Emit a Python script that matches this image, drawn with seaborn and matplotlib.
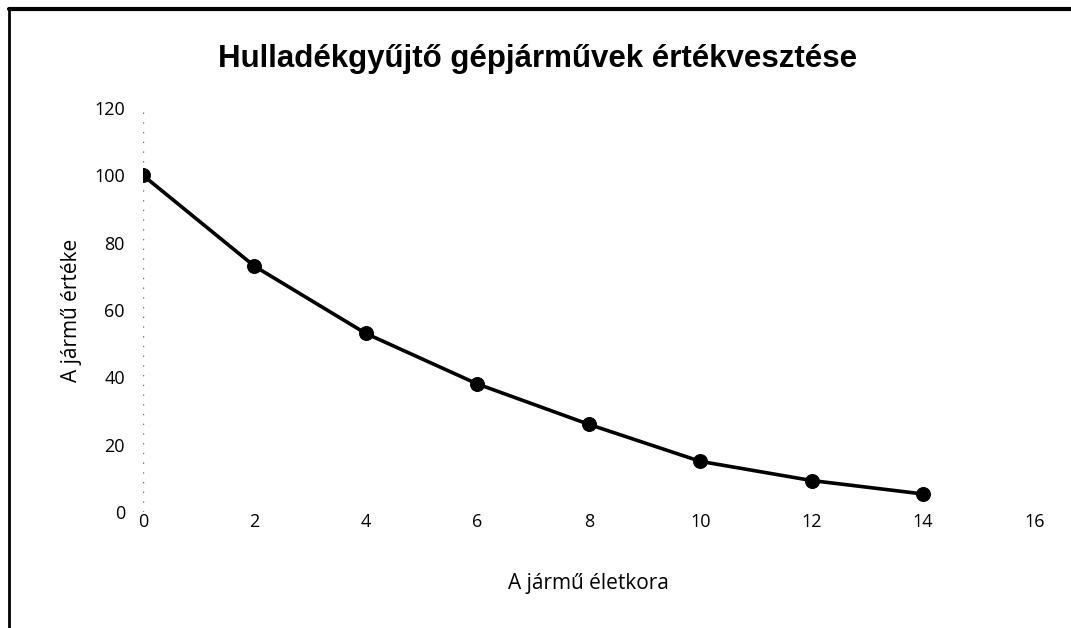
import matplotlib
matplotlib.use('Agg')

import matplotlib.pyplot as plt
import seaborn as sns
from matplotlib.lines import Line2D

# Vehicle age (years) and remaining value (%)
age = [0, 2, 4, 6, 8, 10, 12, 14]
value = [100, 73, 53, 38, 26, 15, 9.3, 5.3]

x_ticks = [0, 2, 4, 6, 8, 10, 12, 14, 16]
y_ticks = [0, 20, 40, 60, 80, 100, 120]

sns.set_style('white')
plt.rcParams['font.family'] = ['Open Sans', 'DejaVu Sans']

fig = plt.figure(figsize=(10.71, 6.28), dpi=100)
ax = fig.add_axes([0.1335, 0.185, 0.8325, 0.643])

sns.lineplot(x=age, y=value, ax=ax, color='black', linewidth=2.6,
             marker='o', markersize=10, markeredgecolor='black')

ax.set_xlim(0, 16)
ax.set_ylim(0, 120)
ax.set_xticks(x_ticks)
ax.set_yticks(y_ticks)
ax.tick_params(axis='y', length=0, labelsize=13, pad=13, colors='black')
ax.tick_params(axis='x', length=0, labelsize=13, pad=1, colors='black')
for s in ax.spines.values():
    s.set_visible(False)
ax.axvline(0, color='#777777', linestyle=(0, (1, 6)), linewidth=1, zorder=0)

ax.set_xlabel('A jármű életkora', fontsize=15, labelpad=30, color='black')
ax.set_ylabel('A jármű értéke', fontsize=15, labelpad=9, color='black')
fig.suptitle('Hulladékgyűjtő gépjárművek értékvesztése', x=0.502, y=0.93,
             fontsize=22.5, fontweight='bold', color='black',
             family=['Liberation Sans', 'DejaVu Sans'])

# scanned frame (left and top edges)
fig.add_artist(Line2D([0.008, 0.008], [0.0, 0.985], transform=fig.transFigure,
                      color='black', linewidth=2))
fig.add_artist(Line2D([0.008, 1.0], [0.985, 0.985], transform=fig.transFigure,
                      color='black', linewidth=3))

fig.savefig('out.png', dpi=100)
plt.close(fig)
